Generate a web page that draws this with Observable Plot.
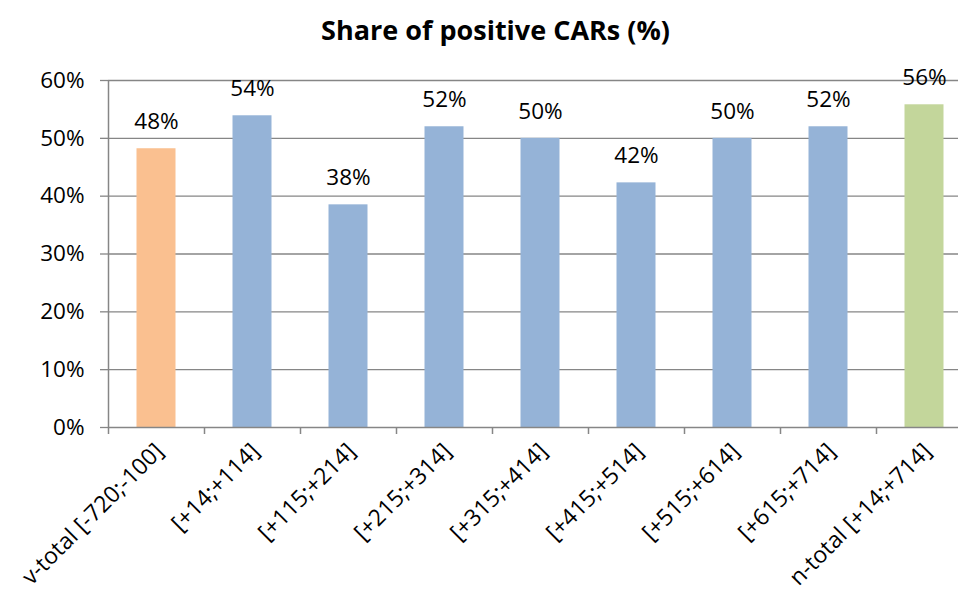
<!DOCTYPE html>
<html>
<head>
<meta charset="utf-8">
<script src="https://cdn.jsdelivr.net/npm/d3@7"></script>
<script src="https://cdn.jsdelivr.net/npm/@observablehq/plot@0.6"></script>
<style>
  html, body { margin: 0; padding: 0; background: #fff; overflow: hidden; width: 958px; height: 601px; }
  #title { position: absolute; left: 0; top: 0; width: 991px; text-align: center;
           font-family: "Open Sans", sans-serif; font-weight: bold; font-size: 27px; line-height: 32px; padding-top: 14px; color: #000; }
  #chart { position: absolute; left: 0; top: 50px; }
  #chart svg { max-width: none; }
</style>
</head>
<body>
<div id="title">Share of positive CARs (%)</div>
<div id="chart"></div>
<script>
const categories = ["v-total [-720;-100]", "[+14;+114]", "[+115;+214]", "[+215;+314]", "[+315;+414]", "[+415;+514]", "[+515;+614]", "[+615;+714]", "n-total [+14;+714]"];
const values = [0.482, 0.539, 0.385, 0.520, 0.500, 0.423, 0.500, 0.520, 0.558];
const labels = ["48%", "54%", "38%", "52%", "50%", "42%", "50%", "52%", "56%"];
const groups = ["pre", "post", "post", "post", "post", "post", "post", "post", "total"];
const yTicks = [0, 0.1, 0.2, 0.3, 0.4, 0.5, 0.6];

const data = categories.map((c, i) => ({i, cat: c, value: values[i], label: labels[i], group: groups[i]}));
const gray = "#868686";

const chart = Plot.plot({
  width: 972,
  height: 551,
  marginLeft: 108,
  marginRight: 0,
  marginTop: 30,
  marginBottom: 174,
  style: {fontFamily: "'Open Sans', sans-serif", fontSize: "22px", color: "#000", background: "#fff", maxWidth: "none"},
  x: {type: "linear", domain: [0, categories.length], axis: null},
  y: {domain: [0, 0.6], axis: null},
  color: {domain: ["pre", "post", "total"], range: ["#FAC090", "#95B3D7", "#C3D69B"]},
  marks: [
    Plot.gridY(yTicks.filter(t => t > 0), {stroke: gray, strokeOpacity: 1, strokeWidth: 1.3}),
    Plot.axisY({ticks: yTicks, tickSize: 8, tickPadding: 16, stroke: gray, strokeWidth: 1.3, label: null,
                tickFormat: d => Math.round(d * 100) + "%", fontSize: 22.5}),
    Plot.rectY(data, {x1: d => d.i, x2: d => d.i + 1, y: "value", fill: "group", insetLeft: 28.5, insetRight: 28.5}),
    Plot.text(data, {x: d => d.i + 0.5, y: "value", text: "label", dy: -27, fontSize: 22.5, fill: "#000"}),
    Plot.ruleY([0], {stroke: gray, strokeWidth: 1.5}),
    Plot.ruleX([0], {stroke: gray, strokeWidth: 1.5}),
    Plot.axisX({ticks: d3.range(0, categories.length + 1), tickSize: 7, tickFormat: () => "", stroke: gray, strokeWidth: 1.5, label: null}),
    Plot.axisX({ticks: d3.range(0, categories.length).map(i => i + 0.5), tickSize: 0, tickPadding: 20, tickRotate: -45, label: null,
                tickFormat: d => categories[Math.floor(d)], fontSize: 23, dx: 3})
  ]
});
document.getElementById("chart").appendChild(chart);
</script>
</body>
</html>
